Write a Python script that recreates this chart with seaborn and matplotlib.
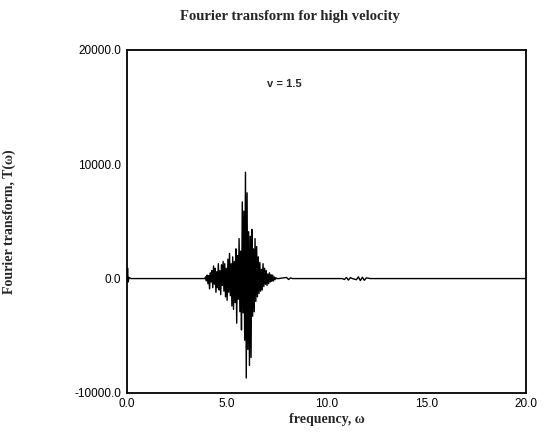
import numpy as np
import pandas as pd
import seaborn as sns
import matplotlib
matplotlib.use("Agg")
import matplotlib.pyplot as plt

# low frequency spike near zero
freq_low = [0.00, 0.03, 0.06, 0.10, 0.20, 3.80]
ft_low = [0, 900, -300, 100, 0, 0]

# main burst around omega ~ 6
freq_burst = [3.90, 3.94, 3.98, 4.02, 4.06, 4.10, 4.14, 4.18, 4.22, 4.26,
              4.30, 4.34, 4.38, 4.42, 4.46, 4.50, 4.54, 4.58, 4.62, 4.66,
              4.70, 4.74, 4.78, 4.82, 4.86, 4.90, 4.94, 4.98, 5.02, 5.06,
              5.10, 5.14, 5.18, 5.22, 5.26, 5.30, 5.34, 5.38, 5.42, 5.46,
              5.50, 5.54, 5.58, 5.62, 5.66, 5.70, 5.74, 5.78, 5.82, 5.86,
              5.90, 5.94, 5.98, 6.02, 6.06, 6.10, 6.14, 6.18, 6.22, 6.26,
              6.30, 6.34, 6.38, 6.42, 6.46, 6.50, 6.54, 6.58, 6.62, 6.66,
              6.70, 6.74, 6.78, 6.82, 6.86, 6.90, 6.94, 6.98, 7.02, 7.06,
              7.10, 7.14, 7.18, 7.22, 7.26, 7.30, 7.34, 7.38, 7.42, 7.46,
              7.50]
ft_burst = [0, 150, -200, 300, -450, 250, -900, 500, -300, 700,
            -800, 1100, -500, 900, -1200, 600, -800, 1300, -1000, 700,
            -1400, 1200, -600, 1500, -1100, 1300, -1600, 900, -1900, 1700,
            -1200, 2200, -1500, 1300, -2400, 1900, -2700, 1500, -2100, 2600,
            -3900, 2000, -1800, 3500, -2900, 2400, -4500, 6700, -3000, 5900,
            -5400, 9300, -8700, 7500, -6200, 4100, -7600, 3700, -6900, 4300,
            -3300, 2600, -2900, 3500, -2000, 2800, -1600, 1900, -1300, 1400,
            -1100, 800, -1000, 1300, -700, 900, -500, 700, -600, 400,
            -450, 500, -300, 350, -250, 300, -200, 150, -100, 80,
            0]

# small ripples further out
freq_high = [7.60, 8.00, 8.10, 8.20, 8.30, 10.80, 10.90, 11.00, 11.10,
             11.20, 11.30, 11.50, 11.60, 11.70, 11.80, 11.90, 12.00, 12.20, 20.00]
ft_high = [0, 100, -80, 60, 0, 0, -80, 100, -130,
           80, 0, -100, 150, -180, 120, -150, 60, 0, 0]

df = pd.DataFrame({
    "freq": freq_low + freq_burst + freq_high,
    "ft": ft_low + ft_burst + ft_high,
})

sns.set_theme(style="white")
plt.rcParams['font.family'] = ['Liberation Sans', 'DejaVu Sans']

fig = plt.figure(figsize=(5.45, 4.38), dpi=100)
ax = fig.add_axes([0.233, 0.103, 0.732, 0.783])

sns.lineplot(data=df, x="freq", y="ft", estimator=None, sort=False,
             color="black", linewidth=1.0, ax=ax)

ax.set_xlim(0, 20)
ax.set_ylim(-10000, 20000)
ax.set_xticks([0, 5, 10, 15, 20])
ax.set_yticks([-10000, 0, 10000, 20000])
ax.set_xticklabels(["{:.1f}".format(v) for v in [0, 5, 10, 15, 20]])
ax.set_yticklabels(["{:.1f}".format(v) for v in [-10000, 0, 10000, 20000]])
ax.tick_params(labelsize=8.5, length=0, pad=4, colors="black")

for sp in ax.spines.values():
    sp.set_color("black")
    sp.set_linewidth(1.3)

serif = ['Liberation Serif', 'DejaVu Serif']
ax.set_xlabel("frequency, ω", fontsize=10, family=serif, fontweight="bold", labelpad=2)
ax.set_ylabel("Fourier transform, T(ω)", fontsize=10, family=serif,
              fontweight="bold", labelpad=42)
fig.text(0.532, 0.962, "Fourier transform for high velocity", ha="center",
         va="center", fontsize=10.5, family=serif, fontweight="bold")
ax.text(7.9, 17000, "v = 1.5", ha="center", va="center", fontsize=8,
        fontweight="bold")

fig.savefig("out.png", dpi=100)
